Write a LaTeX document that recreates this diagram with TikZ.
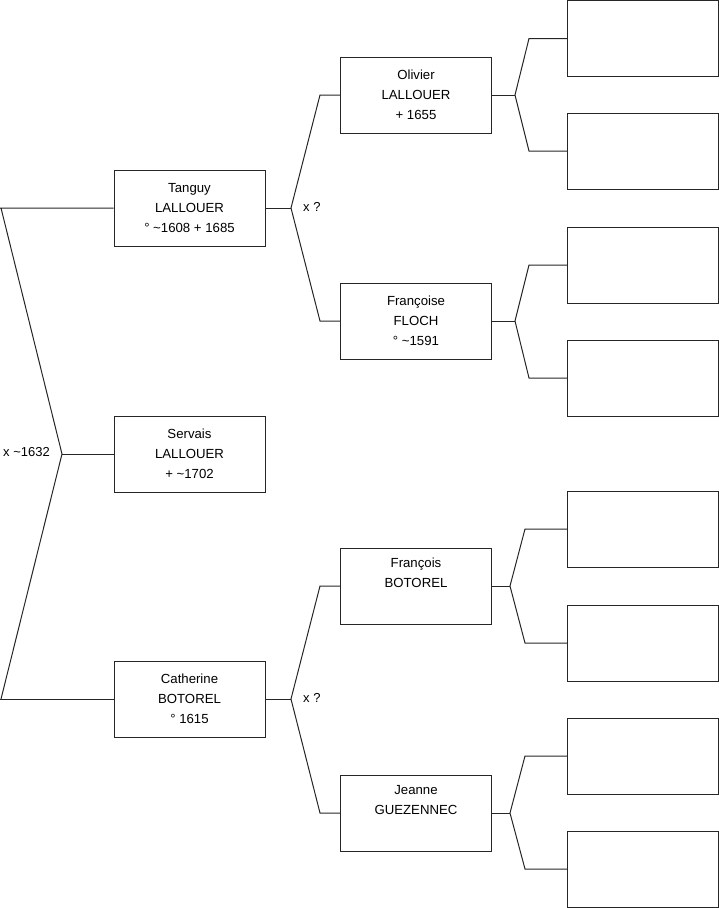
\documentclass[tikz,border=0pt]{standalone}
\usepackage{fontspec}
\setmainfont{Liberation Sans}
\begin{document}
\begin{tikzpicture}[x=1pt,y=-1pt,
  person/.style={draw=black!85,line width=1pt,minimum width=151pt,minimum height=76pt,inner sep=0pt,align=center,font=\fontsize{13.2}{20}\selectfont},
  link/.style={draw=black!85,line width=1pt},
  marr/.style={anchor=west,inner sep=0pt,font=\fontsize{13}{15}\selectfont}]
\useasboundingbox (0,0) rectangle (719,908);
% generation 1
\node[person] (servais) at (189.5,454) {Servais\\LALLOUER\\+ \textasciitilde1702};
% generation 2
\node[person] (tanguy) at (189.5,208) {Tanguy\\LALLOUER\\° \textasciitilde1608 + 1685};
\node[person] (catherine) at (189.5,699) {Catherine\\BOTOREL\\° 1615};
% generation 3
\node[person] (olivier) at (416,95) {Olivier\\LALLOUER\\+ 1655};
\node[person] (francoise) at (416,321) {Françoise\\FLOCH\\° \textasciitilde1591};
\node[person] (francois) at (416,586) {François\\BOTOREL\\\strut};
\node[person] (jeanne) at (416,813) {Jeanne\\GUEZENNEC\\\strut};
% generation 4
\node[person] (p1) at (643,38.5) {};
\node[person] (p2) at (643,151) {};
\node[person] (p3) at (643,265) {};
\node[person] (p4) at (643,378) {};
\node[person] (p5) at (643,529) {};
\node[person] (p6) at (643,643) {};
\node[person] (p7) at (643,756) {};
\node[person] (p8) at (643,869) {};
% fork points
\coordinate (f0) at (62,454);
\coordinate (f0a) at (1,208);
\coordinate (f0b) at (1,699);
\coordinate (f1) at (291,208);
\coordinate (f1a) at (320,95);
\coordinate (f1b) at (320,321);
\coordinate (f2) at (291,699);
\coordinate (f2a) at (320,586);
\coordinate (f2b) at (320,813);
\coordinate (f3) at (515,95);
\coordinate (f3a) at (529,38.5);
\coordinate (f3b) at (529,151);
\coordinate (f4) at (515,321);
\coordinate (f4a) at (529,265);
\coordinate (f4b) at (529,378);
\coordinate (f5) at (510,586);
\coordinate (f5a) at (525,529);
\coordinate (f5b) at (525,643);
\coordinate (f6) at (510,813);
\coordinate (f6a) at (525,756);
\coordinate (f6b) at (525,869);
% connectors
\draw[link] (servais.west) -- (f0);
\draw[link] (tanguy.west) -- (0,208) (f0a) -- (f0) -- (f0b);
\draw[link] (catherine.west) -- (0,699);
\draw[link] (tanguy.east) -- (f1);
\draw[link] (olivier.west) -- (f1a) -- (f1) -- (f1b) -- (francoise.west);
\draw[link] (catherine.east) -- (f2);
\draw[link] (francois.west) -- (f2a) -- (f2) -- (f2b) -- (jeanne.west);
\draw[link] (olivier.east) -- (f3);
\draw[link] (p1.west) -- (f3a) -- (f3) -- (f3b) -- (p2.west);
\draw[link] (francoise.east) -- (f4);
\draw[link] (p3.west) -- (f4a) -- (f4) -- (f4b) -- (p4.west);
\draw[link] (francois.east) -- (f5);
\draw[link] (p5.west) -- (f5a) -- (f5) -- (f5b) -- (p6.west);
\draw[link] (jeanne.east) -- (f6);
\draw[link] (p7.west) -- (f6a) -- (f6) -- (f6b) -- (p8.west);
% marriage labels
\node[marr] (m0) at (3,452) {x \textasciitilde1632};
\node[marr] (m1) at (303,207) {x ?};
\node[marr] (m2) at (303,698) {x ?};
\end{tikzpicture}
\end{document}
